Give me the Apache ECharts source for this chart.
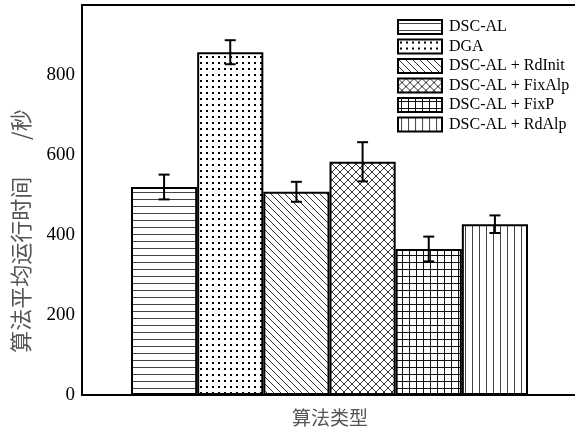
<!DOCTYPE html>
<html>
<head>
<meta charset="utf-8">
<script src="https://cdn.jsdelivr.net/npm/echarts@6/dist/echarts.min.js"></script>
<style>html,body{margin:0;padding:0;background:#fff;}#c{width:575px;height:427px;}</style>
</head>
<body>
<div id="c"></div>
<script>
const seriesNames = ['DSC-AL', 'DGA', 'DSC-AL + RdInit', 'DSC-AL + FixAlp', 'DSC-AL + FixP', 'DSC-AL + RdAlp'];
const meanValues = [520, 857, 508, 583, 365, 427];
const errorValues = [31, 30, 25, 49, 31, 22];
const yMin = 0, yMax = 975, yInterval = 200;
const xTitle = '算法类型';
const yTitle = '算法平均运行时间　   /秒';

function pat(w, h, draw) {
  const c = document.createElement('canvas');
  c.width = w; c.height = h;
  const g = c.getContext('2d');
  g.fillStyle = '#fff'; g.fillRect(0, 0, w, h);
  draw(g, w, h);
  return { image: c, repeat: 'repeat' };
}
const patterns = [
  pat(7, 7, g => { g.fillStyle = '#444'; g.fillRect(0, 3, 7, 1); }),
  pat(6, 6, g => { g.fillStyle = '#000'; g.fillRect(2, 2, 2, 2); }),
  pat(7, 7, (g, w) => { g.fillStyle = '#333'; for (let i = 0; i < w; i++) g.fillRect(i, i, 1, 1); }),
  pat(8, 8, (g, w) => { g.fillStyle = '#333'; for (let i = 0; i < w; i++) { g.fillRect(i, i, 1, 1); g.fillRect(i, w - 1 - i, 1, 1); } }),
  pat(7, 7, g => { g.fillStyle = '#111'; g.fillRect(0, 3, 7, 1); g.fillRect(3, 0, 1, 7); }),
  pat(7, 7, g => { g.fillStyle = '#444'; g.fillRect(3, 0, 1, 7); })
];

const serif = 'Liberation Serif, Times New Roman, serif';
const cjk = 'Noto Sans CJK SC, sans-serif';

const barSeries = seriesNames.map((name, i) => ({
  name: name,
  type: 'bar',
  xAxisIndex: 1,
  yAxisIndex: 1,
  stack: 'all',
  barCategoryGap: '0%',
  data: seriesNames.map((n, j) => (j === i ? meanValues[i] : '-')),
  itemStyle: { color: patterns[i], borderColor: '#000', borderWidth: 2 },
  emphasis: { disabled: true },
  z: 2
}));

const errSeries = {
  type: 'custom',
  name: 'err',
  xAxisIndex: 1,
  yAxisIndex: 1,
  z: 5,
  data: meanValues.map((m, i) => [i, m - errorValues[i], m + errorValues[i]]),
  encode: { x: 0, y: [1, 2] },
  renderItem: function (params, api) {
    const x = api.value(0);
    const lo = api.coord([x, api.value(1)]);
    const hi = api.coord([x, api.value(2)]);
    const hw = 5.5;
    const st = { stroke: '#000', lineWidth: 2 };
    return {
      type: 'group',
      children: [
        { type: 'line', shape: { x1: lo[0], y1: lo[1], x2: hi[0], y2: hi[1] }, style: st },
        { type: 'line', shape: { x1: hi[0] - hw, y1: hi[1], x2: hi[0] + hw, y2: hi[1] }, style: st },
        { type: 'line', shape: { x1: lo[0] - hw, y1: lo[1], x2: lo[0] + hw, y2: lo[1] }, style: st }
      ]
    };
  }
};

const chart = echarts.init(document.getElementById('c'), null, { renderer: 'canvas' });
chart.setOption({
  animation: false,
  backgroundColor: '#fff',
  grid: [
    { left: 82, right: -3, top: 5, bottom: 32, outerBoundsMode: 'none', containLabel: false, show: true, borderColor: '#000', borderWidth: 2, backgroundColor: 'transparent' },
    { left: 131, right: 47, top: 5, bottom: 32, outerBoundsMode: 'none', containLabel: false }
  ],
  legend: {
    data: seriesNames,
    orient: 'vertical',
    left: 397,
    top: 19,
    padding: 0,
    itemWidth: 44,
    itemHeight: 14,
    itemGap: 3.5,
    icon: 'rect',
    textStyle: { fontFamily: serif, fontSize: 16, color: '#000', padding: [0, 0, 0, 2] },
    selectedMode: false
  },
  xAxis: [
    {
      gridIndex: 0, type: 'category', data: [''],
      axisLine: { show: true, lineStyle: { color: '#000', width: 2 } },
      axisTick: { show: false }, axisLabel: { show: false },
      name: xTitle, nameLocation: 'middle', nameGap: 13,
      nameTextStyle: { fontFamily: cjk, fontSize: 19, color: '#555' }
    },
    {
      gridIndex: 1, type: 'category', data: seriesNames,
      axisLine: { show: false }, axisTick: { show: false }, axisLabel: { show: false }
    }
  ],
  yAxis: [
    {
      gridIndex: 0, type: 'value', min: yMin, max: yMax, interval: yInterval,
      axisLine: { show: true, lineStyle: { color: '#000', width: 2 } },
      axisTick: { show: false }, splitLine: { show: false },
      axisLabel: {
        fontFamily: serif, fontSize: 19, color: '#000', margin: 7,
        formatter: v => (v % yInterval === 0 ? String(v) : '')
      },
      name: yTitle, nameLocation: 'middle', nameGap: 50, nameRotate: 90,
      nameTextStyle: { fontFamily: cjk, fontSize: 22, color: '#555', padding: [0, 62, 0, 0] }
    },
    {
      gridIndex: 1, type: 'value', min: yMin, max: yMax, interval: yInterval,
      axisLine: { show: false }, axisTick: { show: false }, splitLine: { show: false }, axisLabel: { show: false }
    }
  ],
  series: barSeries.concat([errSeries])
});
</script>
</body>
</html>
